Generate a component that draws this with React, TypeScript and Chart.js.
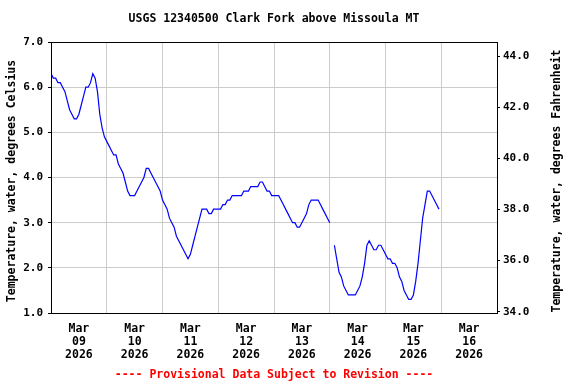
import React, { useEffect, useRef } from 'react';
import { Chart, registerables } from 'chart.js';

Chart.register(...registerables);

const TITLE = 'USGS 12340500 Clark Fork above Missoula MT';
const FOOTER = '---- Provisional Data Subject to Revision ----';
const LEFT_AXIS_TITLE = 'Temperature, water, degrees Celsius';
const RIGHT_AXIS_TITLE = 'Temperature, water, degrees Fahrenheit';

const MONTH = 'Mar';
const YEAR = '2026';
const DAY_LABELS = ['09', '10', '11', '12', '13', '14', '15', '16'];
const CELSIUS_TICKS = [1, 2, 3, 4, 5, 6, 7];
const FAHRENHEIT_TICKS = [34, 36, 38, 40, 42, 44];
const CELSIUS_MIN = 1;
const CELSIUS_MAX = 7;
// right-hand axis bounds
const FAHRENHEIT_MIN = 33.95;
const FAHRENHEIT_MAX = 44.55;

// Hourly water temperature (deg C), starting Mar 09 2026 00:00; null = missing
const TEMP_C: (number | null)[] = [
  6.3, 6.2, 6.2, 6.1, 6.1, 6.0, 5.9, 5.7, 5.5, 5.4, 5.3, 5.3,
  5.4, 5.6, 5.8, 6.0, 6.0, 6.1, 6.3, 6.2, 5.9, 5.4, 5.1, 4.9,
  4.8, 4.7, 4.6, 4.5, 4.5, 4.3, 4.2, 4.1, 3.9, 3.7, 3.6, 3.6,
  3.6, 3.7, 3.8, 3.9, 4.0, 4.2, 4.2, 4.1, 4.0, 3.9, 3.8, 3.7,
  3.5, 3.4, 3.3, 3.1, 3.0, 2.9, 2.7, 2.6, 2.5, 2.4, 2.3, 2.2,
  2.3, 2.5, 2.7, 2.9, 3.1, 3.3, 3.3, 3.3, 3.2, 3.2, 3.3, 3.3,
  3.3, 3.3, 3.4, 3.4, 3.5, 3.5, 3.6, 3.6, 3.6, 3.6, 3.6, 3.7,
  3.7, 3.7, 3.8, 3.8, 3.8, 3.8, 3.9, 3.9, 3.8, 3.7, 3.7, 3.6,
  3.6, 3.6, 3.6, 3.5, 3.4, 3.3, 3.2, 3.1, 3.0, 3.0, 2.9, 2.9,
  3.0, 3.1, 3.2, 3.4, 3.5, 3.5, 3.5, 3.5, 3.4, 3.3, 3.2, 3.1,
  3.0, null, 2.5, 2.2, 1.9, 1.8, 1.6, 1.5, 1.4, 1.4, 1.4, 1.4,
  1.5, 1.6, 1.8, 2.1, 2.5, 2.6, 2.5, 2.4, 2.4, 2.5, 2.5, 2.4,
  2.3, 2.2, 2.2, 2.1, 2.1, 2.0, 1.8, 1.7, 1.5, 1.4, 1.3, 1.3,
  1.4, 1.7, 2.1, 2.6, 3.1, 3.4, 3.7, 3.7, 3.6, 3.5, 3.4, 3.3,
];

const BIG_FONT = '"DejaVu Sans Mono", monospace';
const GRID = '#cccccc';

const framePlugin = {
  id: 'usgsFrame',
  afterDraw(chart: any) {
    const { ctx, chartArea: a } = chart;
    const l = Math.round(a.left), r = Math.round(a.right);
    const t = Math.round(a.top), b = Math.round(a.bottom);
    const cx = (a.left + a.right) / 2;
    ctx.save();
    ctx.strokeStyle = '#000000';
    ctx.lineWidth = 1;
    ctx.strokeRect(l + 0.5, t + 0.5, r - l, b - t);

    ctx.textAlign = 'center';
    ctx.textBaseline = 'middle';
    ctx.fillStyle = '#000000';
    ctx.font = 'bold 11.5px ' + BIG_FONT;
    ctx.fillText(TITLE, cx, 19);
    ctx.fillStyle = '#ff0000';
    ctx.fillText(FOOTER, cx, 375);

    ctx.fillStyle = '#000000';
    ctx.font = 'bold 11.5px ' + BIG_FONT;
    ctx.save();
    ctx.translate(12.5, 181);
    ctx.rotate(-Math.PI / 2);
    ctx.fillText(LEFT_AXIS_TITLE, 0, 0);
    ctx.restore();
    ctx.save();
    ctx.translate(557, 181);
    ctx.rotate(-Math.PI / 2);
    ctx.fillText(RIGHT_AXIS_TITLE, 0, 0);
    ctx.restore();
    ctx.restore();
  },
};

export default function App() {
  const canvasRef = useRef<HTMLCanvasElement | null>(null);

  useEffect(() => {
    document.body.style.margin = '0';
    const canvas = canvasRef.current;
    if (!canvas) return;
    const points = TEMP_C.map((v, i) => ({ x: i, y: v }));
    const hoursSpan = DAY_LABELS.length * 24;
    const xTicks: number[] = [];
    DAY_LABELS.forEach((_, d) => {
      xTicks.push(d * 24, d * 24 + 12);
    });
    xTicks.push(hoursSpan);

    const chart = new Chart(canvas, {
      type: 'line',
      data: {
        datasets: [
          {
            data: points as any,
            borderColor: '#0000ff',
            borderWidth: 1.2,
            pointRadius: 0,
            pointHoverRadius: 0,
            fill: false,
            tension: 0,
            spanGaps: false,
            xAxisID: 'x',
            yAxisID: 'y',
          },
        ],
      },
      options: {
        animation: false,
        responsive: false,
        devicePixelRatio: 1,
        events: [],
        layout: { padding: { top: 42, left: 0, right: 0, bottom: 0 } },
        plugins: {
          legend: { display: false },
          title: { display: false },
          tooltip: { enabled: false },
        },
        scales: {
          x: {
            type: 'linear',
            position: 'bottom',
            min: 0,
            max: hoursSpan,
            afterBuildTicks: (s: any) => {
              s.ticks = xTicks.map((v) => ({ value: v }));
            },
            afterFit: (s: any) => {
              s.height = 71;
            },
            border: { display: false },
            grid: {
              color: (c: any) =>
                c.tick && c.tick.value % 24 === 0 ? GRID : 'rgba(0,0,0,0)',
              drawTicks: false,
              lineWidth: 1,
            },
            ticks: {
              autoSkip: false,
              maxRotation: 0,
              minRotation: 0,
              padding: 10,
              color: '#000000',
              font: { family: BIG_FONT, size: 11.5, weight: 'bold', lineHeight: 1.13 },
              callback: (v: any) => {
                const n = Number(v);
                if (n % 24 === 12) {
                  return [MONTH, DAY_LABELS[(n - 12) / 24], YEAR];
                }
                return '';
              },
            },
          },
          y: {
            type: 'linear',
            position: 'left',
            min: CELSIUS_MIN,
            max: CELSIUS_MAX,
            afterBuildTicks: (s: any) => {
              s.ticks = CELSIUS_TICKS.map((v) => ({ value: v }));
            },
            afterFit: (s: any) => {
              s.width = 51;
            },
            border: { display: false },
            grid: {
              color: GRID,
              tickColor: '#000000',
              tickLength: 3,
              lineWidth: 1,
            },
            ticks: {
              padding: 5,
              color: '#000000',
              font: { family: BIG_FONT, size: 11, weight: 'bold' },
              callback: (v: any) => Number(v).toFixed(1),
            },
          },
          y2: {
            type: 'linear',
            position: 'right',
            min: FAHRENHEIT_MIN,
            max: FAHRENHEIT_MAX,
            afterBuildTicks: (s: any) => {
              s.ticks = FAHRENHEIT_TICKS.map((v) => ({ value: v }));
            },
            afterFit: (s: any) => {
              s.width = 79;
            },
            border: { display: false },
            grid: {
              drawOnChartArea: false,
              tickColor: '#000000',
              tickLength: 3,
              lineWidth: 1,
            },
            ticks: {
              padding: 3,
              color: '#000000',
              font: { family: BIG_FONT, size: 11, weight: 'bold' },
              callback: (v: any) => Number(v).toFixed(1),
            },
          },
        },
      } as any,
      plugins: [framePlugin],
    });

    return () => {
      chart.destroy();
    };
  }, []);

  return (
    <div style={{ position: 'fixed', left: 0, top: 0, width: 576, height: 384, background: '#ffffff' }}>
      <canvas ref={canvasRef} width={576} height={384} style={{ display: 'block' }} />
    </div>
  );
}
